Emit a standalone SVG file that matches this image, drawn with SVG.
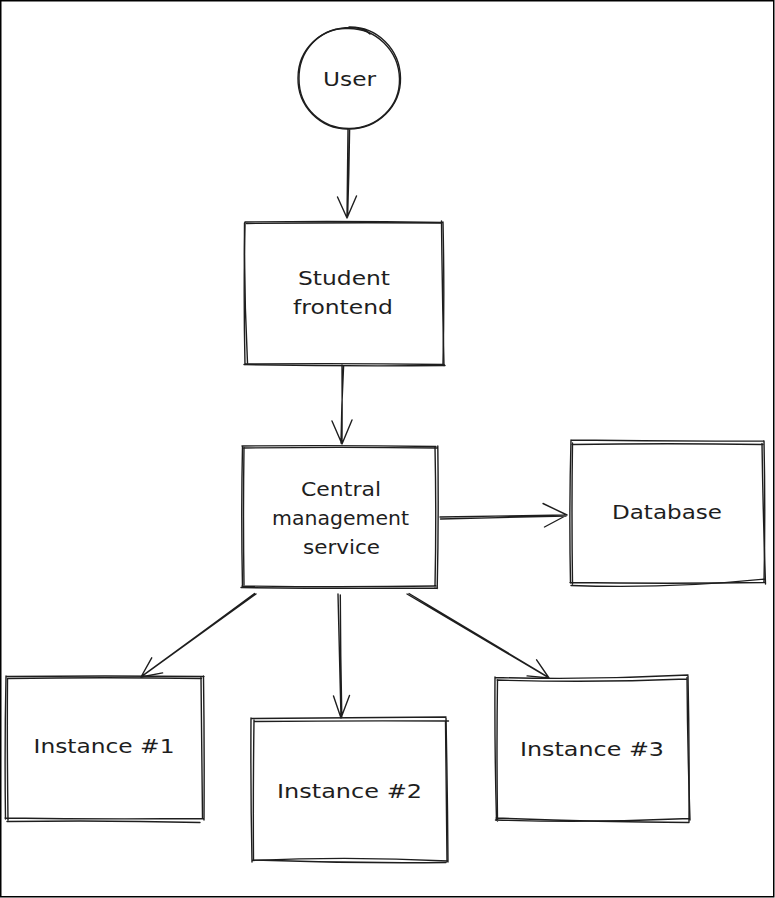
<svg xmlns="http://www.w3.org/2000/svg" width="775" height="898" viewBox="0 0 775 898">
  <style>
    .sk { fill: none; stroke: #1e1e1e; stroke-width: 1.4; stroke-linecap: round; stroke-linejoin: round; }
    .lbl { font-family: "DejaVu Sans", "Liberation Sans", sans-serif; font-size: 19px; fill: #1e1e1e; text-anchor: middle; }
  </style>
  <rect x="0" y="0" width="775" height="898" fill="#ffffff"/>
  <rect x="0.75" y="0.75" width="773" height="896" fill="none" stroke="#000000" stroke-width="1.5"/>

  <!-- connectors -->
  <g id="connectors">
    <!-- User -> Student frontend -->
    <path class="sk" d="M348 129 Q347.5 175 347 218 M349.6 130 Q349 175 347.6 217 M337.5 197 L347 218 L356.5 196"/>
    <!-- Student frontend -> Central management service -->
    <path class="sk" d="M342 365 Q342.3 405 342 444 M343.6 366 Q341.5 405 341 443 M332 421 L342 444 L352 420"/>
    <!-- Central management service -> Database -->
    <path class="sk" d="M440 517 Q503 516 567 515 M440.5 519 Q503 517.5 566 516 M543 503.5 L567 515 L544.5 527"/>
    <!-- Central management service -> Instance #1 -->
    <path class="sk" d="M256 594 Q199 635 141 677 M254.5 593.5 Q197 636 142 676 M151.7 657.8 L141 677 L162.6 672.9"/>
    <!-- Central management service -> Instance #2 -->
    <path class="sk" d="M338 594 Q339.5 656 341 718 M340.3 595 Q340.5 656 341.8 717 M333.5 696 L341 718 L349.5 695.5"/>
    <!-- Central management service -> Instance #3 -->
    <path class="sk" d="M407 594 Q478 636 549 678 M409 593.5 Q479 635.5 548 677 M536.6 659.8 L549 678 L527.1 675.9"/>
  </g>

  <!-- User -->
  <g id="user">
    <path class="sk" d="M349 27 C377 26.5 400 49 400.5 78 C401 106 378 129 349 129 C320 129.5 297.5 106 298 78 C298 49 321 27.5 351 27.5 C362 28 367 31 370 34"/>
    <path class="sk" d="M346 28.5 C376 27 399 51 399.5 79 C400 107 377 128 350 128.5 C322 129 299 108 299 79 C298.5 52 318 29 345 28.5"/>
    <text class="lbl" x="349.5" y="86" textLength="53" lengthAdjust="spacingAndGlyphs">User</text>
  </g>

  <!-- Student frontend -->
  <g id="student-frontend">
    <path class="sk" d="M245 222 Q344 220.8 443 222.5 M443 222 Q444.6 293 443 364 M443.5 364.5 Q344 363 245 364 M245 364.5 Q243.4 293 245 222"/>
    <path class="sk" d="M246.5 223.5 Q344 222.2 441 223 M441.5 221 Q442.2 293 444 366 M445 365.5 Q344 366.5 244 364.5 M247.5 363 Q244 293 244.5 223"/>
    <text class="lbl" x="344" y="285" textLength="92" lengthAdjust="spacingAndGlyphs">Student</text>
    <text class="lbl" x="343" y="314" textLength="100" lengthAdjust="spacingAndGlyphs">frontend</text>
  </g>

  <!-- Central management service -->
  <g id="central-management-service">
    <path class="sk" d="M242 446 Q338 445 436 446.5 M435 447 Q436.5 517 435 587 M436 586 Q339 587.5 242 586 M242.5 587 Q241 517 242.5 446"/>
    <path class="sk" d="M243.5 448 Q338 446.8 437.5 448 M437.8 446 Q438.8 517 437.2 588.5 M437.5 588 Q339 589 241 587.5 M244 585 Q243 517 244 447.5"/>
    <text class="lbl" x="341" y="496" textLength="80" lengthAdjust="spacingAndGlyphs">Central</text>
    <text class="lbl" x="340.5" y="525" textLength="137" lengthAdjust="spacingAndGlyphs">management</text>
    <text class="lbl" x="341.5" y="554" textLength="77" lengthAdjust="spacingAndGlyphs">service</text>
  </g>

  <!-- Database -->
  <g id="database">
    <path class="sk" d="M571 440 Q667 441.5 764 441 M764 441 Q765.5 512 764 582 M764.5 582.5 Q667 584 570 582.5 M570.5 583 Q569 512 571 440"/>
    <path class="sk" d="M572 444.5 Q667 443 763 444.5 M762 443.5 Q763 512 765.5 584 M765 579 Q667 589 571 585.5 M572.5 584 Q571.5 512 572.5 443"/>
    <text class="lbl" x="667" y="519" textLength="110" lengthAdjust="spacingAndGlyphs">Database</text>
  </g>

  <!-- Instance #1 -->
  <g id="instance-1">
    <path class="sk" d="M6 676.5 Q105 675.5 204 676.5 M203.5 676 Q204.5 748 204 820 M204 818.5 Q105 819.5 5 818 M5.5 819 Q4.5 748 6 676"/>
    <path class="sk" d="M7.5 678.5 Q105 677 201.5 678.5 M201 677.5 Q202 748 202.5 818 M200 822.5 Q105 820 7 821.5 M8 820 Q7 748 7.5 679"/>
    <text class="lbl" x="104" y="753" textLength="141" lengthAdjust="spacingAndGlyphs">Instance #1</text>
  </g>

  <!-- Instance #2 -->
  <g id="instance-2">
    <path class="sk" d="M251 718.5 Q349 717.5 446 717 M446 718 Q447.5 790 448 862 M448 861 Q349 856 252 860.5 M252 862 Q250.5 790 251 718"/>
    <path class="sk" d="M254 721.5 Q349 720.5 448.5 721 M445.5 721 Q446 790 447 861.5 M446 862.5 Q349 863.5 253 860 M253.5 860 Q253 790 254 720"/>
    <text class="lbl" x="349.5" y="798" textLength="145" lengthAdjust="spacingAndGlyphs">Instance #2</text>
  </g>

  <!-- Instance #3 -->
  <g id="instance-3">
    <path class="sk" d="M495 677.5 Q591 680 688 675 M688 676 Q689.5 748 689 822 M689 822.5 Q591 822 496 818 M496.5 820 Q494.5 748 495 677"/>
    <path class="sk" d="M497 680 Q591 683 686.5 679 M687 677.5 Q687.5 748 690 820 M690 818.5 Q591 823 495.5 820 M497.5 821 Q496.5 748 497.5 680"/>
    <text class="lbl" x="592" y="756" textLength="144" lengthAdjust="spacingAndGlyphs">Instance #3</text>
  </g>
</svg>
